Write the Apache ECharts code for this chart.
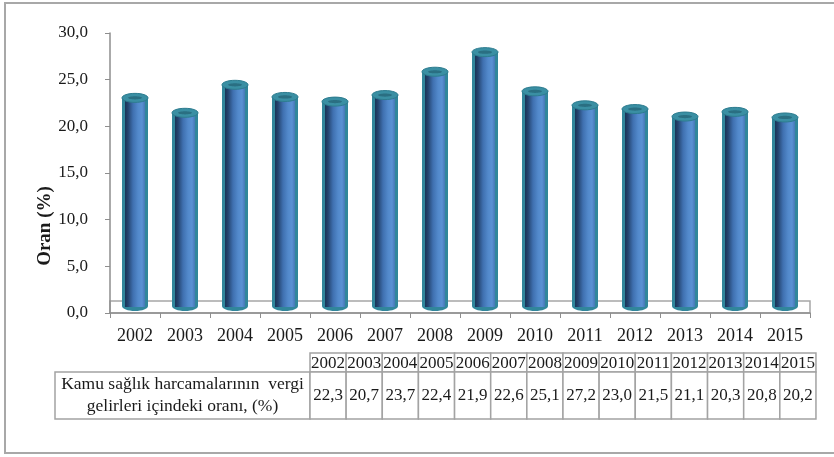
<!DOCTYPE html>
<html>
<head>
<meta charset="utf-8">
<script src="https://cdn.jsdelivr.net/npm/echarts@6/dist/echarts.min.js"></script>
<style>
  html, body { margin: 0; padding: 0; background: #fff; }
  #chart { width: 834px; height: 457px; }
</style>
</head>
<body>
<div id="chart"></div>
<script>
// Years shown on the axis and in the table
const years = ['2002', '2003', '2004', '2005', '2006', '2007', '2008', '2009', '2010', '2011', '2012', '2013', '2014', '2015'];
// Share of public health spending in tax revenue, %
const ratios = [22.3, 20.7, 23.7, 22.4, 21.9, 22.6, 25.1, 27.2, 23.0, 21.5, 21.1, 20.3, 20.8, 20.2];
// Value axis range
const yMin = 0, yMax = 30, yStep = 5;
const rowLabel = ['Kamu sağlık harcamalarının  vergi', 'gelirleri içindeki oranı, (%)'];

const fmt = v => v.toFixed(1).replace('.', ',');

const TEAL = '#31869b';
const serif = '"Liberation Serif", "DejaVu Serif", serif';

// Cylinder drawn in a plane pushed back by a few pixels (3-D depth effect)
function renderCylinder(params, api) {
  const i = api.value(0);
  const v = api.value(1);
  const top = api.coord([i, v]);
  const base = api.coord([i, 0]);
  const depth = 7;
  const cx = top[0];
  const w = 26;
  const yTop = top[1] - depth;
  const yBot = base[1] - depth;
  return {
    type: 'group',
    children: [
      { type: 'ellipse', shape: { cx: cx, cy: yBot, rx: w / 2, ry: 5 }, style: { fill: TEAL } },
      { type: 'rect', shape: { x: cx - w / 2, y: yTop, width: w, height: yBot - yTop }, style: { fill: TEAL } },
      {
        type: 'rect',
        shape: { x: cx - w / 2 + 3, y: yTop, width: w - 6, height: yBot - yTop + 1 },
        style: {
          fill: {
            type: 'linear', x: 0, y: 0, x2: 1, y2: 0,
            colorStops: [
              { offset: 0, color: '#1a3357' },
              { offset: 0.15, color: '#24446f' },
              { offset: 0.4, color: '#3f70b0' },
              { offset: 0.65, color: '#5289cb' },
              { offset: 0.85, color: '#5a91d3' },
              { offset: 1, color: '#4677b6' }
            ]
          }
        }
      },
      { type: 'ellipse', shape: { cx: cx, cy: yTop, rx: w / 2, ry: 4.5 }, style: { fill: '#3a8fa3', stroke: '#2d7c8f', lineWidth: 1 } },
      { type: 'ellipse', shape: { cx: cx, cy: yTop, rx: 7, ry: 1.6 }, style: { fill: '#2a6f82' } }
    ]
  };
}

// Data table under the plot
const tableX = 310, cellW = 36.14, headY = 353, headH = 19, rowY = 372, rowH = 47;
const tableEls = [];
const cellStyle = { fill: '#fff', stroke: '#a3a3a3', lineWidth: 1.5 };
tableEls.push({ type: 'rect', shape: { x: 55, y: rowY, width: tableX - 55, height: rowH }, style: cellStyle });
rowLabel.forEach((line, k) => {
  tableEls.push({
    type: 'text', x: (55 + tableX) / 2, y: 384 + k * 22,
    style: { text: line, font: '17.5px ' + serif, fill: '#1a1a1a', textAlign: 'center', textVerticalAlign: 'middle' }
  });
});
years.forEach((yr, k) => {
  const x = tableX + k * cellW;
  tableEls.push({ type: 'rect', shape: { x: x, y: headY, width: cellW, height: headH }, style: cellStyle });
  tableEls.push({ type: 'rect', shape: { x: x, y: rowY, width: cellW, height: rowH }, style: cellStyle });
  tableEls.push({
    type: 'text', x: x + cellW / 2, y: headY + headH / 2 + 1,
    style: { text: yr, font: '17px ' + serif, fill: '#1a1a1a', textAlign: 'center', textVerticalAlign: 'middle' }
  });
  tableEls.push({
    type: 'text', x: x + cellW / 2, y: rowY + rowH / 2,
    style: { text: fmt(ratios[k]), font: '17px ' + serif, fill: '#1a1a1a', textAlign: 'center', textVerticalAlign: 'middle' }
  });
});

const chart = echarts.init(document.getElementById('chart'), null, { renderer: 'canvas' });
chart.setOption({
  animation: false,
  backgroundColor: '#fff',
  grid: { left: 110, right: 24, top: 33, bottom: 144 },
  xAxis: {
    type: 'category',
    data: years,
    boundaryGap: true,
    axisLine: { lineStyle: { color: '#8e8e8e', width: 1.5 } },
    axisTick: { show: true, length: 5, lineStyle: { color: '#8e8e8e' } },
    axisLabel: { color: '#1a1a1a', fontFamily: serif, fontSize: 18, margin: 14 }
  },
  yAxis: {
    type: 'value',
    min: yMin, max: yMax, interval: yStep,
    axisLine: { show: true, lineStyle: { color: '#8e8e8e', width: 1.5 } },
    axisTick: { show: true, length: 5, lineStyle: { color: '#8e8e8e' } },
    splitLine: { show: false },
    axisLabel: { color: '#1a1a1a', fontFamily: serif, fontSize: 17, margin: 22, formatter: v => fmt(v) }
  },
  graphic: [
    // outer frame
    { type: 'rect', z: 0, shape: { x: 5, y: 3, width: 900, height: 450 }, style: { fill: 'none', stroke: '#a8a8a8', lineWidth: 2 } },
    // 3-D floor
    { type: 'rect', z: 0, shape: { x: 110, y: 301, width: 700, height: 12 }, style: { fill: 'none', stroke: '#a6a6a6', lineWidth: 1.5 } },
    {
      type: 'text', x: 45, y: 226, rotation: Math.PI / 2,
      style: { text: 'Oran (%)', font: 'bold 19px ' + serif, fill: '#1a1a1a', textAlign: 'center', textVerticalAlign: 'middle' }
    },
    ...tableEls
  ],
  series: [{
    type: 'custom',
    z: 5,
    renderItem: renderCylinder,
    encode: { x: 0, y: 1 },
    data: ratios.map((v, i) => [i, v])
  }]
});
</script>
</body>
</html>
